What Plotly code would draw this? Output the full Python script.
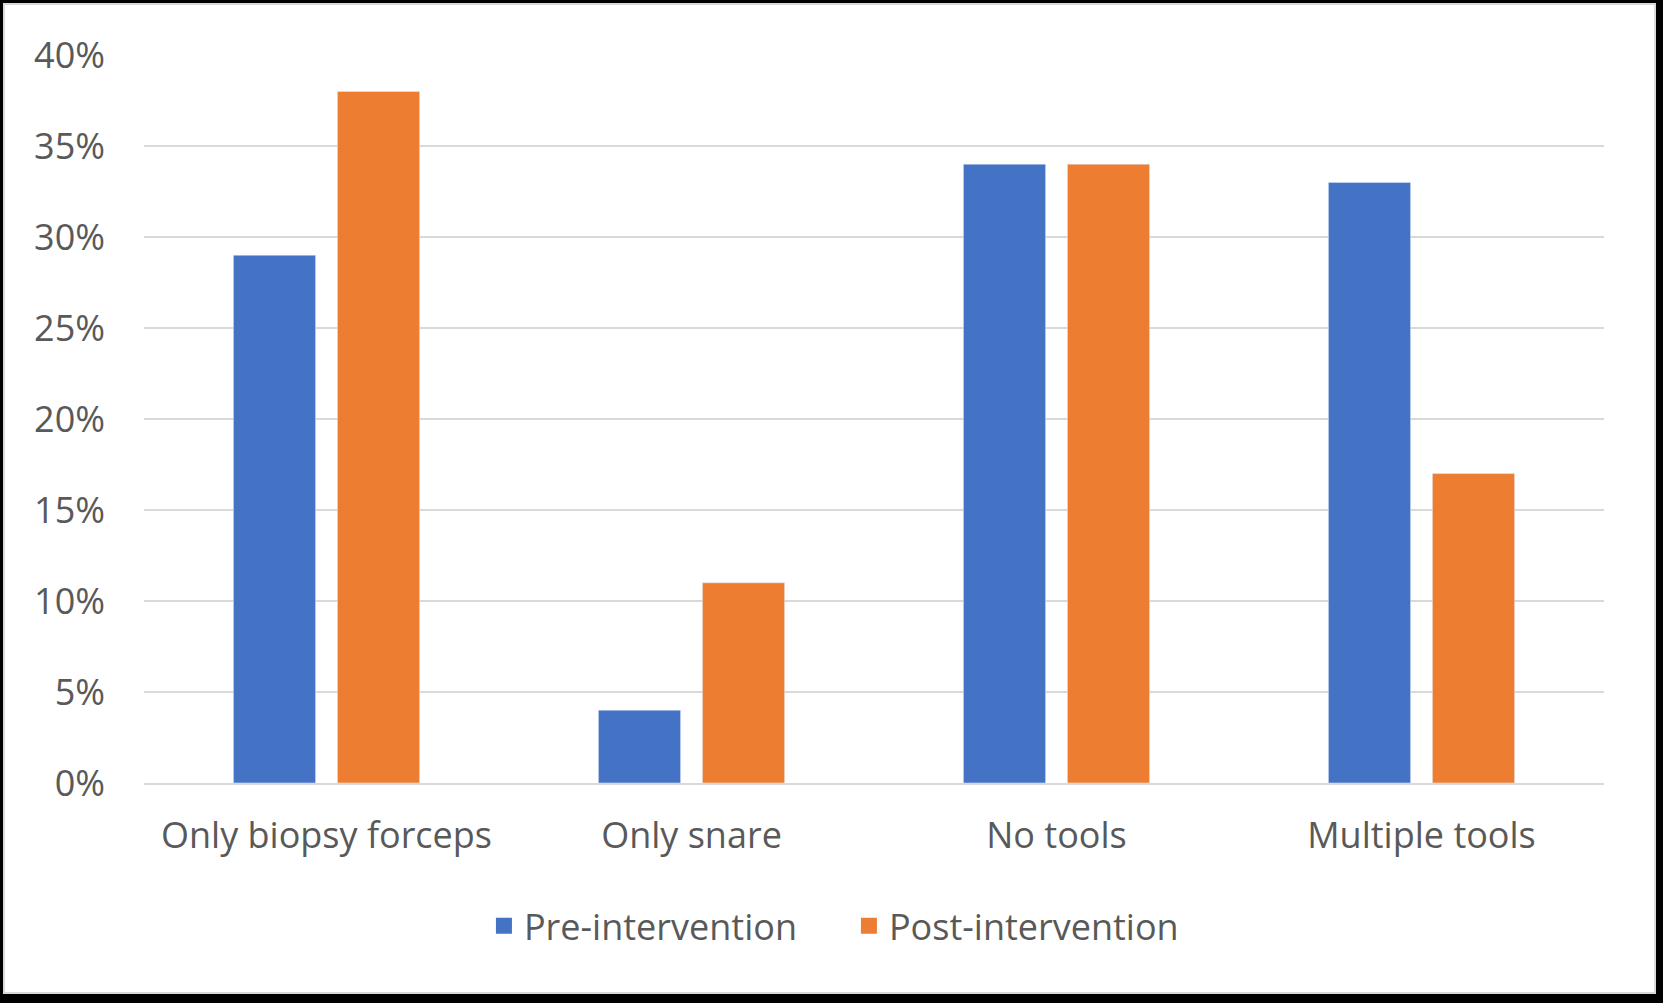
import plotly.graph_objects as go

categories = ["Only biopsy forceps", "Only snare", "No tools", "Multiple tools"]
pre_values = [29, 4, 34, 33]
post_values = [38, 11, 34, 17]
series_names = ["Pre-intervention", "Post-intervention"]
colors = ["#4472C4", "#ED7D31"]

W, H = 1663, 1003
L, R, T, B = 144, 59, 55, 220
pw, ph = W - L - R, H - T - B

fig = go.Figure()
for name, vals, col in zip(series_names, [pre_values, post_values], colors):
    fig.add_trace(go.Bar(x=categories, y=vals, name=name, marker_color=col,
                         showlegend=False))
    # legend-only square, bigger than the default bar swatch
    fig.add_trace(go.Scatter(x=[None], y=[None], mode="markers", name=name,
                             marker=dict(symbol="square", size=25, color=col)))

font_col = "#595959"


def px_x(p):
    return (p - L) / pw


def px_y(p):
    return (H - B - p) / ph


# white chart area with thin grey edge, black frame round it
fig.add_shape(type="rect", xref="paper", yref="paper", layer="below",
              x0=px_x(4), x1=px_x(1655), y0=px_y(993), y1=px_y(4),
              fillcolor="white", line=dict(color="#d9d9d9", width=2))

fig.update_layout(
    width=W, height=H,
    margin=dict(l=L, r=R, t=T, b=B),
    paper_bgcolor="black",
    plot_bgcolor="rgba(0,0,0,0)",
    barmode="group",
    bargap=0.43,
    bargroupgap=0.21,
    font=dict(family="Open Sans", size=36, color=font_col),
    showlegend=True,
    legend=dict(orientation="h", xref="container", yref="container",
                x=0.291, y=0.077, xanchor="left", yanchor="middle",
                font=dict(size=36, color=font_col), itemwidth=30,
                entrywidth=320, bgcolor="rgba(0,0,0,0)"),
)
fig.update_yaxes(range=[0, 40], dtick=5, ticksuffix="%",
                 showgrid=True, gridcolor="#d9d9d9", gridwidth=2,
                 zeroline=False, showline=False, ticklabelstandoff=38,
                 tickfont=dict(size=36, color=font_col))
fig.update_xaxes(showline=True, linecolor="#d9d9d9", linewidth=2,
                 showgrid=False, ticks="", ticklabelstandoff=20,
                 tickfont=dict(size=36, color=font_col))

fig.write_html("out.html", config={"displayModeBar": False},
               post_script="document.body.style.margin='0';")
